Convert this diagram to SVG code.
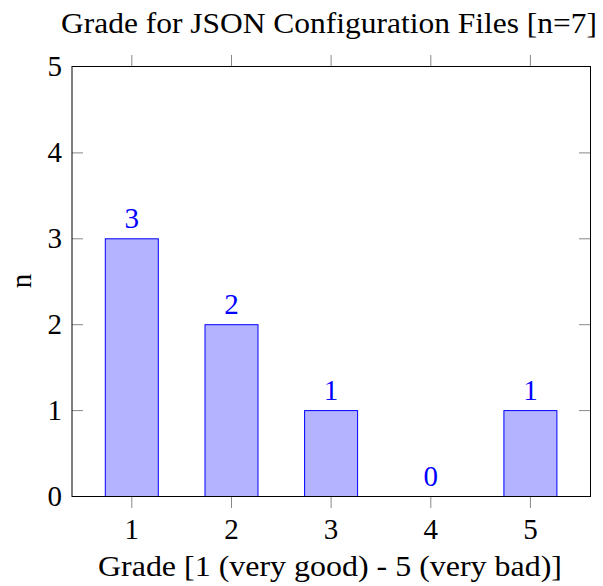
<svg xmlns="http://www.w3.org/2000/svg" width="603" height="586" viewBox="0 0 603 586">
<style>
text{font-family:"Liberation Serif","DejaVu Serif",serif;font-size:29px;fill:#000}
.v{fill:#0000ff;text-anchor:middle}
.xt{text-anchor:middle}
.yt{text-anchor:end}
.bar{fill:#b3b3ff;stroke:#0000ff;stroke-width:1}
.tick{stroke:#888;stroke-width:1}
</style>
<rect width="603" height="586" fill="#fff"/>
<text id="title" x="329" y="33" text-anchor="middle" textLength="536" lengthAdjust="spacingAndGlyphs">Grade for JSON Configuration Files [n=7]</text>
<g id="ticks">
<line class="tick" x1="72" y1="410.6" x2="83" y2="410.6"/>
<line class="tick" x1="72" y1="324.7" x2="83" y2="324.7"/>
<line class="tick" x1="72" y1="238.8" x2="83" y2="238.8"/>
<line class="tick" x1="72" y1="152.9" x2="83" y2="152.9"/>
<line class="tick" x1="579" y1="410.6" x2="590" y2="410.6"/>
<line class="tick" x1="579" y1="324.7" x2="590" y2="324.7"/>
<line class="tick" x1="579" y1="238.8" x2="590" y2="238.8"/>
<line class="tick" x1="579" y1="152.9" x2="590" y2="152.9"/>
<line class="tick" x1="131.8" y1="496.5" x2="131.8" y2="508"/>
<line class="tick" x1="231.5" y1="496.5" x2="231.5" y2="508"/>
<line class="tick" x1="331.1" y1="496.5" x2="331.1" y2="508"/>
<line class="tick" x1="430.8" y1="496.5" x2="430.8" y2="508"/>
<line class="tick" x1="530.4" y1="496.5" x2="530.4" y2="508"/>
<line class="tick" x1="131.8" y1="55" x2="131.8" y2="66.5"/>
<line class="tick" x1="231.5" y1="55" x2="231.5" y2="66.5"/>
<line class="tick" x1="331.1" y1="55" x2="331.1" y2="66.5"/>
<line class="tick" x1="430.8" y1="55" x2="430.8" y2="66.5"/>
<line class="tick" x1="530.4" y1="55" x2="530.4" y2="66.5"/>
</g>
<g id="bars">
<g id="bar1"><rect class="bar" x="105.3" y="238.8" width="53" height="257.7"/><text class="v" x="131.8" y="228">3</text></g>
<g id="bar2"><rect class="bar" x="205" y="324.7" width="53" height="171.8"/><text class="v" x="231.5" y="314">2</text></g>
<g id="bar3"><rect class="bar" x="304.6" y="410.6" width="53" height="85.9"/><text class="v" x="331.1" y="400">1</text></g>
<g id="bar4"><line x1="404.3" y1="496.5" x2="457.3" y2="496.5" stroke="#0000ff" stroke-width="1"/><text class="v" x="430.8" y="486">0</text></g>
<g id="bar5"><rect class="bar" x="503.9" y="410.6" width="53" height="85.9"/><text class="v" x="530.4" y="400">1</text></g>
</g>
<rect id="frame" x="72" y="66.5" width="518.5" height="430" fill="none" stroke="#000" stroke-width="1"/>
<g id="ylabels">
<text class="yt" x="62" y="506">0</text>
<text class="yt" x="62" y="420">1</text>
<text class="yt" x="62" y="334">2</text>
<text class="yt" x="62" y="248">3</text>
<text class="yt" x="62" y="162">4</text>
<text class="yt" x="62" y="76">5</text>
</g>
<g id="xlabels">
<text class="xt" x="131.8" y="539">1</text>
<text class="xt" x="231.5" y="539">2</text>
<text class="xt" x="331.1" y="539">3</text>
<text class="xt" x="430.8" y="539">4</text>
<text class="xt" x="530.4" y="539">5</text>
</g>
<text id="xlabel" x="330" y="576" text-anchor="middle" textLength="464" lengthAdjust="spacingAndGlyphs">Grade [1 (very good) - 5 (very bad)]</text>
<text id="ylabel" transform="translate(31,281) rotate(-90)" text-anchor="middle">n</text>
</svg>
